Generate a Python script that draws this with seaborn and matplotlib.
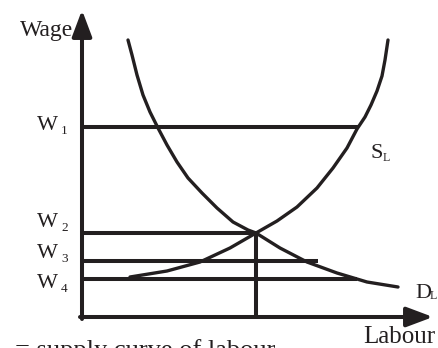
import matplotlib
matplotlib.use("Agg")
from matplotlib import pyplot as plt
import pandas as pd
import seaborn as sns

# labour market diagram: demand (D_L) and supply (S_L) of labour
ink = "#231f20"

# demand curve of labour (labour, wage)
demand_labour = [4.6, 5.0, 5.5, 6.1, 6.8, 7.6, 8.5, 9.5, 10.6, 12.0, 13.5,
                 15.1, 16.6, 17.4, 19.8, 22.5, 25.5, 28.5, 31.6]
demand_wage = [27.7, 26.2, 24.2, 22.2, 20.5, 18.9, 17.2, 15.5, 13.9, 12.4,
               10.9, 9.5, 8.7, 8.4, 6.9, 5.5, 4.4, 3.5, 3.0]

# supply curve of labour (labour, wage)
supply_labour = [4.8, 8.5, 11.8, 14.8, 17.4, 19.5, 21.5, 23.5, 25.1, 26.5,
                 27.5, 28.3, 28.9, 29.5, 30.0, 30.3, 30.6]
supply_wage = [4.0, 4.6, 5.5, 6.9, 8.4, 9.6, 11.0, 12.9, 14.9, 16.9, 18.8,
               20.0, 21.2, 22.6, 24.1, 25.7, 27.7]

# wage levels and how far each line reaches
wage_names = ["1", "2", "3", "4"]
wage_levels = [19.0, 8.4, 5.6, 3.8]
wage_ends = [27.6, 17.4, 23.6, 27.5]

# equilibrium employment
eq_labour = 17.4
eq_wage = 8.4

demand = pd.DataFrame({"labour": demand_labour, "wage": demand_wage})
supply = pd.DataFrame({"labour": supply_labour, "wage": supply_wage})

sns.set_style("white")
plt.rcParams["font.family"] = ["Liberation Serif", "DejaVu Serif"]

fig = plt.figure(figsize=(4.38, 3.48), dpi=100)
ax = fig.add_axes([0, 0, 1, 1])
ax.set_xlim(-8.2, 35.6)
ax.set_ylim(-3.1, 31.7)
ax.axis("off")

sns.lineplot(data=demand, x="labour", y="wage", sort=False, ax=ax,
             color=ink, lw=2.4)
sns.lineplot(data=supply, x="labour", y="wage", sort=False, ax=ax,
             color=ink, lw=2.4)

ax.hlines(wage_levels, 0, wage_ends, color=ink, lw=2.9)
ax.vlines(eq_labour, 0, eq_wage, color=ink, lw=2.9)

# axes with arrow heads
arrow = dict(arrowstyle="-|>,head_length=0.8,head_width=0.3", lw=2.9,
             color=ink, shrinkA=0, shrinkB=0, mutation_scale=20)
ax.annotate("", xy=(0, 30.7), xytext=(0, -0.2), arrowprops=arrow)
ax.annotate("", xy=(35.1, 0), xytext=(-0.2, 0), arrowprops=arrow)

fs = 16
sub = 9.5
ax.text(-6.2, 28.1, "Wage", fontsize=17, color=ink, va="baseline")
ax.text(28.1, -2.6, "Labour", fontsize=18, color=ink, va="baseline")

# label baselines sit a little off the lines in the original
label_shift = [-0.3, 0.6, 0.3, -0.9]
for name, w, dy in zip(wage_names, wage_levels, label_shift):
    ax.text(-4.5, w + dy, "W", fontsize=fs, color=ink, va="baseline")
    ax.text(-2.1, w + dy - 0.4, name, fontsize=sub, color=ink,
            va="baseline")

ax.text(28.8, 15.9, "S", fontsize=fs, color=ink, va="baseline")
ax.text(30.1, 15.6, "L", fontsize=sub - 1, color=ink, va="baseline")
ax.text(33.3, 1.9, "D", fontsize=fs, color=ink, va="baseline")
ax.text(34.8, 1.8, "L", fontsize=sub - 1, color=ink, va="baseline")

ax.text(-6.7, -4.0, "= supply curve of labour", fontsize=19, color=ink,
        va="baseline", clip_on=False)

fig.savefig("out.png", dpi=100)
